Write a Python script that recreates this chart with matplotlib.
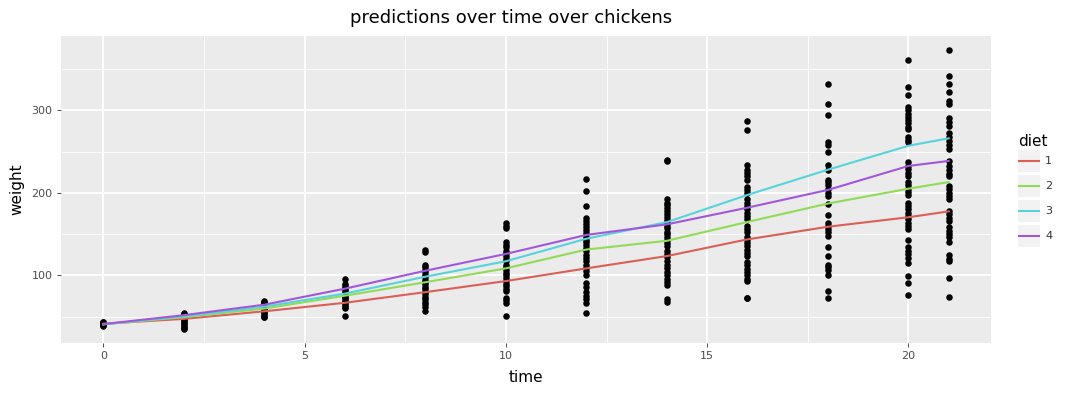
import numpy as np
import matplotlib
matplotlib.use('Agg')
import matplotlib.pyplot as plt
from matplotlib.patches import Rectangle
from matplotlib.lines import Line2D

weights = {
    0: [42, 40, 43, 41, 39, 41, 42, 43, 41, 40],
    2: [55, 53, 51, 49, 48, 46, 44, 42, 40, 38, 36, 35, 50, 47, 52],
    4: [69, 68, 66, 64, 62, 60, 58, 56, 54, 52, 50, 49, 65, 61],
    6: [96, 89, 87, 85, 82, 80, 78, 76, 74, 72, 70, 68, 66, 64, 62, 60, 51],
    8: [131, 128, 113, 110, 107, 104, 101, 98, 95, 92, 89, 86, 83, 80, 77,
        74, 71, 68, 65, 62, 57],
    10: [163, 160, 157, 141, 137, 134, 130, 127, 124, 120, 117, 113, 110, 106,
         103, 100, 97, 93, 90, 87, 84, 81, 73, 70, 67, 51],
    12: [217, 202, 184, 170, 166, 162, 158, 155, 151, 147, 143, 140, 137, 133,
         129, 125, 121, 117, 113, 109, 105, 101, 91, 86, 80, 75, 71, 67, 54],
    14: [240, 238, 192, 188, 185, 181, 178, 174, 171, 167, 164, 160, 157, 153,
         150, 147, 143, 139, 135, 130, 126, 122, 118, 113, 109, 104, 100, 96,
         92, 88, 71, 68],
    16: [287, 276, 234, 228, 224, 220, 215, 207, 203, 200, 192, 188, 184, 180,
         176, 172, 168, 160, 156, 152, 147, 143, 139, 135, 131, 127, 124, 116,
         112, 108, 104, 100, 96, 93, 73, 72],
    18: [332, 307, 294, 262, 258, 250, 234, 228, 216, 213, 210, 204, 200, 196,
         186, 173, 164, 160, 156, 152, 148, 134, 123, 113, 110, 107, 100, 81, 72],
    20: [361, 328, 319, 304, 300, 296, 292, 288, 284, 280, 277, 268, 264, 261,
         237, 233, 229, 224, 220, 213, 209, 205, 201, 197, 188, 184, 180, 176,
         172, 168, 164, 160, 156, 143, 134, 130, 126, 121, 115, 99, 91, 76],
    21: [373, 341, 332, 322, 311, 307, 290, 286, 281, 273, 268, 263, 258, 253,
         238, 233, 228, 223, 220, 208, 204, 200, 196, 192, 178, 174, 170, 166,
         158, 154, 150, 146, 141, 125, 120, 117, 97, 74],
}

times = [0, 2, 4, 6, 8, 10, 12, 14, 16, 18, 20, 21]
diets = ['1', '2', '3', '4']
pred = {
    '1': [41.4, 47.3, 56.5, 66.8, 79.7, 93.1, 108.5, 123.4, 143.6, 158.9, 170.4, 177.5],
    '2': [40.7, 49.4, 59.8, 75.4, 91.7, 108.5, 131.3, 141.9, 164.7, 187.0, 205.0, 213.0],
    '3': [40.8, 50.4, 62.2, 77.9, 98.4, 117.1, 144.4, 164.5, 197.4, 228.0, 257.0, 266.0],
    '4': [41.0, 51.8, 64.5, 83.9, 105.6, 126.0, 149.0, 161.8, 182.0, 203.5, 232.5, 238.6],
}
colors = ['#db5f57', '#91db57', '#57d3db', '#a157db']

W, H = 1079, 395
fig = plt.figure(figsize=(W / 100, H / 100), dpi=100)
ax = fig.add_axes([61 / W, 1 - 343 / H, (991 - 61) / W, (343 - 36) / H])
ax.set_facecolor('#EBEBEB')
for s in ax.spines.values():
    s.set_visible(False)

xs = np.concatenate([[t] * len(v) for t, v in weights.items()])
ys = np.concatenate([v for v in weights.values()])
ax.scatter(xs, ys, s=22, color='black', linewidths=0, zorder=2)

for d, c in zip(diets, colors):
    ax.plot(times, pred[d], color=c, lw=1.5, zorder=3)

ax.set_xlim(-1.05, 22.05)
ax.set_ylim(18.1, 389.9)
ax.set_xticks([0, 5, 10, 15, 20])
ax.set_yticks([100, 200, 300])
ax.set_xticks([2.5, 7.5, 12.5, 17.5], minor=True)
ax.set_yticks([50, 150, 250, 350], minor=True)
ax.grid(which='major', color='white', lw=1.3)
ax.grid(which='minor', color='white', lw=0.6)
ax.set_axisbelow(True)
ax.tick_params(which='major', length=3, width=0.6, color='#333333',
               labelcolor='#4D4D4D', labelsize=8, pad=3)
ax.tick_params(which='minor', length=0)

ax.set_xlabel('time', fontsize=11, labelpad=6)
ax.set_ylabel('weight', fontsize=11, labelpad=5)
fig.text(511 / W, 1 - 18 / H, 'predictions over time over chickens',
         ha='center', va='center', fontsize=13)

# legend drawn by hand, plotnine style
fig.text(1018 / W, 1 - 141 / H, 'diet', ha='left', va='center', fontsize=11)
for i, (d, c) in enumerate(zip(diets, colors)):
    yc = 161 + 25 * i
    fig.patches.append(Rectangle((1018 / W, 1 - (yc + 11) / H), 22 / W, 22 / H,
                                 transform=fig.transFigure, facecolor='#F2F2F2',
                                 edgecolor='none'))
    fig.lines.append(Line2D([1019 / W, 1039 / W], [1 - yc / H, 1 - yc / H],
                            transform=fig.transFigure, color=c, lw=1.5))
    fig.text(1045 / W, 1 - yc / H, d, ha='left', va='center', fontsize=8,
             color='#333333')

fig.savefig('out.png', dpi=100)
